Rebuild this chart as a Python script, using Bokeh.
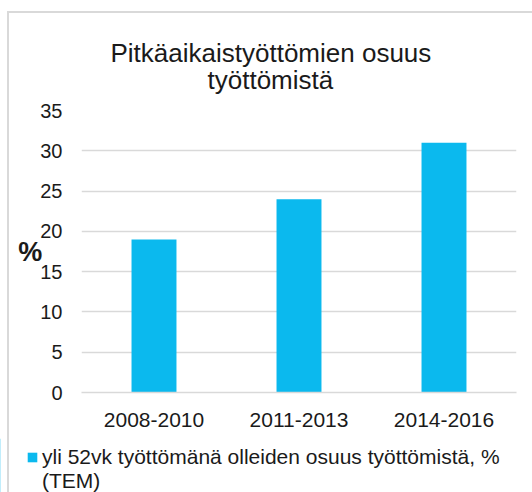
from bokeh.plotting import figure
from bokeh.layouts import column
from bokeh.models import (Range1d, FactorRange, Title, Legend, LegendItem,
                          ColumnDataSource, FixedTicker, InlineStyleSheet)
from bokeh.embed import file_html
from bokeh.resources import INLINE

# ---- data ----
periods = ["2008-2010", "2011-2013", "2014-2016"]
shares = [19, 24, 31]
y_ticks = [0, 5, 10, 15, 20, 25, 30, 35]
title_line1 = "Pitkäaikaistyöttömien osuus"
title_line2 = "työttömistä"
series_name = "yli 52vk työttömänä olleiden osuus työttömistä, %"
series_name2 = "(TEM)"
y_label = "%"

# ---- style ----
FONT = "Liberation Sans"
TEXT = "#1a1a1a"
GRID = "#d9d9d9"
BAR = "#0BB9EE"

p = figure(width=532, height=438,
           x_range=FactorRange(*periods), y_range=Range1d(0, 35),
           output_backend="svg", toolbar_location=None,
           min_border_left=81, min_border_right=16,
           min_border_top=110, min_border_bottom=46)
p.frame_align = False
p.outline_line_color = None
p.background_fill_color = "white"
p.border_fill_color = "white"

src = ColumnDataSource(dict(period=periods, share=shares))
bars = p.vbar(x="period", top="share", width=0.31, source=src,
              fill_color=BAR, line_color=None)

# titles (line 2 added first = closer to the frame)
t2 = Title(text=title_line2, align="left", text_font=FONT,
           text_font_size="26px", text_font_style="normal",
           text_color=TEXT, offset=126, standoff=31)
t1 = Title(text=title_line1, align="left", text_font=FONT,
           text_font_size="26px", text_font_style="normal",
           text_color=TEXT, offset=29, standoff=-41)
p.add_layout(t2, "above")
p.add_layout(t1, "above")

# axes
p.yaxis.ticker = FixedTicker(ticks=y_ticks)
p.yaxis.axis_line_color = None
p.yaxis.major_tick_line_color = None
p.yaxis.minor_tick_line_color = None
p.yaxis.major_label_text_font = FONT
p.yaxis.major_label_text_font_size = "20px"
p.yaxis.major_label_text_color = TEXT
p.yaxis.major_label_standoff = 13
p.yaxis.axis_label = y_label
p.yaxis.axis_label_orientation = "horizontal"
p.yaxis.axis_label_text_font = FONT
p.yaxis.axis_label_text_font_size = "27px"
p.yaxis.axis_label_text_font_style = "bold"
p.yaxis.axis_label_text_color = TEXT
p.yaxis.axis_label_standoff = -5

p.xaxis.axis_line_color = GRID
p.xaxis.axis_line_width = 1.5
p.xaxis.major_tick_line_color = None
p.xaxis.minor_tick_line_color = None
p.xaxis.major_label_text_font = FONT
p.xaxis.major_label_text_font_size = "21px"
p.xaxis.major_label_text_color = TEXT
p.xaxis.major_label_standoff = 14

p.xgrid.grid_line_color = None
p.ygrid.grid_line_color = GRID
p.ygrid.grid_line_width = 1.5

# ---- legend strip below the chart ----
lg = figure(width=532, height=54, x_range=Range1d(0, 1), y_range=Range1d(0, 1),
            output_backend="svg", toolbar_location=None,
            x_axis_type=None, y_axis_type=None,
            min_border_left=0, min_border_right=0,
            min_border_top=0, min_border_bottom=0)
lg.frame_align = False
lg.outline_line_color = None
lg.xgrid.visible = False
lg.ygrid.visible = False
lg.background_fill_color = "white"
lg.border_fill_color = "white"
# legend swatch renderers (their single bar lies outside the visible range)
lg_src = ColumnDataSource(dict(x=[-10], top=[1]))
lg_bar = lg.vbar(x="x", top="top", width=0.1, source=lg_src,
                 fill_color=BAR, line_color=None)
lg_ghost = lg.vbar(x="x", top="top", width=0.1, source=lg_src,
                   fill_alpha=0, line_alpha=0)

legend = Legend(items=[LegendItem(label=series_name, renderers=[lg_bar]),
                       LegendItem(label=series_name2, renderers=[lg_ghost])],
                location=(26, -1), orientation="vertical",
                glyph_width=12, glyph_height=12, label_height=19,
                spacing=0, padding=0, margin=0, label_standoff=4,
                border_line_color=None, background_fill_alpha=0,
                label_text_font=FONT, label_text_font_size="21px",
                label_text_color=TEXT)
lg.add_layout(legend, "center")

layout = column(p, lg, spacing=0)
# outer chart border (left and top edges of the chart area)
layout.stylesheets = [InlineStyleSheet(css="""
:host::after {
  content: "";
  position: absolute;
  left: 7px; top: 11px; right: 0; bottom: 0;
  border-left: 2px solid #d9d9d9;
  border-top: 2px solid #d9d9d9;
  pointer-events: none;
}
""")]

open("out.html", "w").write(file_html(layout, INLINE))
